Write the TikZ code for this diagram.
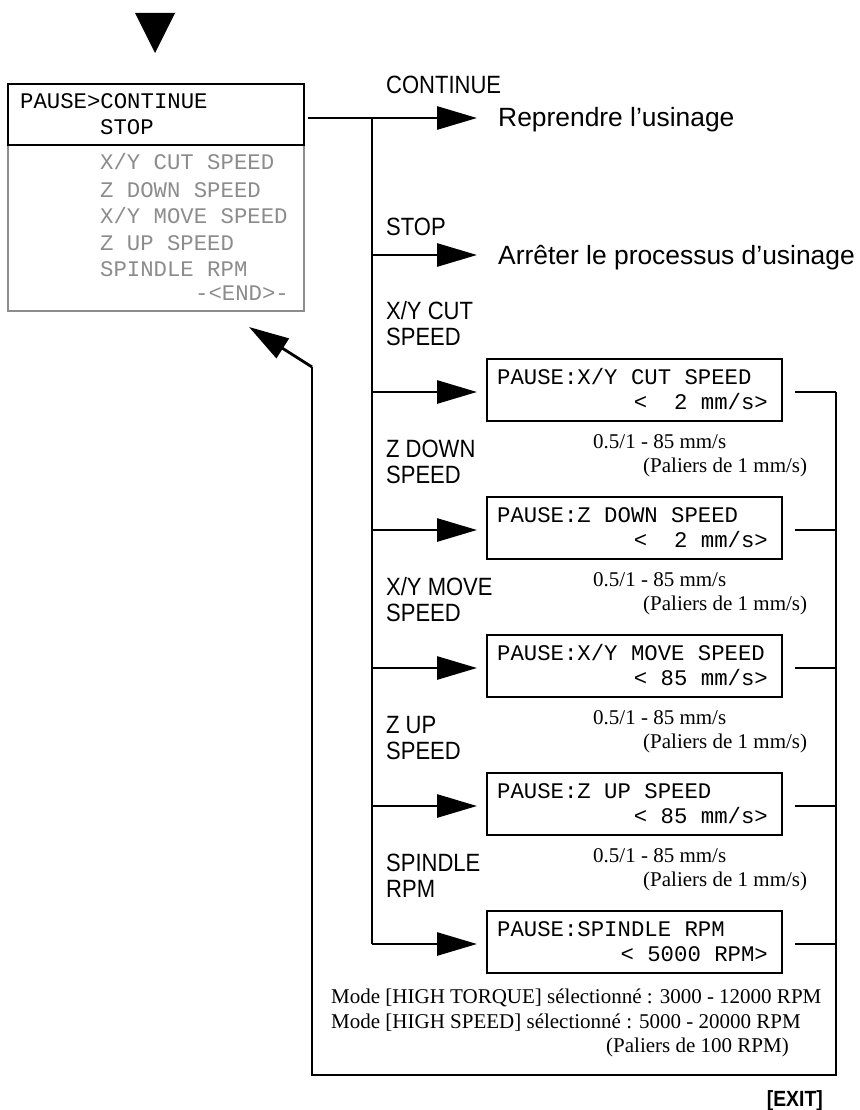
\documentclass[tikz,border=0pt]{standalone}
\usepackage{fontspec}
\setmainfont{Liberation Serif}
\newfontfamily\labfont{Liberation Sans}[FakeStretch=0.88]
\newfontfamily\txtfont{Liberation Sans}
\newfontfamily\monofont{Liberation Mono}
\usetikzlibrary{arrows.meta}
\definecolor{lcdgray}{HTML}{8C8C8C}
\tikzset{
  x=1pt, y=-1pt,
  conn/.style={line width=2.8pt, line cap=butt, line join=miter},
  arr/.style={conn, -{Triangle[length=40pt,width=23pt]}},
  lcdbox/.style={draw, line width=1.8pt, minimum width=295pt, minimum height=62pt, anchor=north west, inner sep=0pt},
  lcd/.style={font=\monofont\fontsize{22.3}{26}\selectfont, inner sep=0pt},
  lcdg/.style={lcd, text=lcdgray},
  lab/.style={font=\labfont\fontsize{25}{26}\selectfont, inner sep=0pt, anchor=base west, align=left},
  res/.style={font=\txtfont\fontsize{26.4}{28}\selectfont, inner sep=0pt, anchor=base west},
  rng/.style={font=\fontsize{21}{24}\selectfont, inner sep=0pt},
}
\begin{document}
\begin{tikzpicture}
\useasboundingbox (0,0) rectangle (859,1110);
% top marker
\fill (135,13) -- (175,13) -- (155,53) -- cycle;
% main menu box
\node[draw=lcdgray, line width=1.5pt, minimum width=296pt, minimum height=227pt, anchor=north west, inner sep=0pt] (menu) at (7,83) {};
\node[draw=black, line width=1.6pt, minimum width=296pt, minimum height=61pt, anchor=north west, inner sep=0pt] (menutop) at (7,83) {};
\node[lcd, anchor=base west] (m1) at (20,109) {PAUSE>CONTINUE};
\node[lcd, anchor=base west] (m2) at (100,135) {STOP};
\node[lcdg, anchor=base west] (m3) at (100,170) {X/Y CUT SPEED};
\node[lcdg, anchor=base west] (m4) at (100,197) {Z DOWN SPEED};
\node[lcdg, anchor=base west] (m5) at (100,223) {X/Y MOVE SPEED};
\node[lcdg, anchor=base west] (m6) at (100,250) {Z UP SPEED};
\node[lcdg, anchor=base west] (m7) at (100,276) {SPINDLE RPM};
\node[lcdg, anchor=base east] (m8) at (289,300) {-<END>-};

% CONTINUE / STOP
\coordinate (start) at (308,118);
\coordinate (jc) at (372,118);
\coordinate (tipc) at (477,118);
\coordinate (js) at (372,255);
\coordinate (tips) at (477,255);
\node[lab] (lc) at (386,94) {CONTINUE};
\node[res] (rc) at (498,127) {Reprendre l’usinage};
\node[lab] (ls) at (386,235) {STOP};
\node[res] (rs) at (498,264) {Arrêter le processus d’usinage};
\draw[arr] (start) -- (tipc);
\draw[arr] (js) -- (tips);

% sub boxes
\foreach \i/\t/\la/\lb/\va/\show in {
  1/358/X\slash Y CUT/SPEED/PAUSE:X\slash Y CUT SPEED/{<~~2 mm\slash s>},
  2/496/Z DOWN/SPEED/PAUSE:Z DOWN SPEED/{<~~2 mm\slash s>},
  3/634/X\slash Y MOVE/SPEED/PAUSE:X\slash Y MOVE SPEED/{<~85 mm\slash s>},
  4/772/Z UP/SPEED/PAUSE:Z UP SPEED/{<~85 mm\slash s>},
  5/910/SPINDLE/RPM/PAUSE:SPINDLE RPM/{<~5000 RPM>}}{
  \node[lcdbox] (b\i) at (486,\t) {};
  \node[lcd, anchor=base west] (b\i a) at (497,\t+26) {\va};
  \node[lcd, anchor=base east] (b\i b) at (768,\t+51) {\show};
  \node[lab] (l\i) at (386,\t-13) {\la\\[0pt]\lb};
  \coordinate (j\i) at (372,\t+34);
  \coordinate (t\i) at (477,\t+34);
  \coordinate (r\i) at (795,\t+34);
  \coordinate (q\i) at (836,\t+34);
  \draw[arr] (j\i) -- (t\i);
  \draw[conn] (r\i) -- (q\i);
}
\foreach \i/\t in {1/358,2/496,3/634,4/772}{
  \node[rng, anchor=base west] (p\i a) at (593,\t+90) {0.5/1 - 85 mm/s};
  \node[rng, anchor=base west] (p\i b) at (643,\t+114) {(Paliers de 1 mm/s)};
}
% trunk
\draw[conn] (jc) -- (j5);
% right collector and return
\coordinate (br) at (836,1075);
\coordinate (bl) at (312,1075);
\coordinate (bend) at (312,367);
\coordinate (tipr) at (249,327);
\draw[conn] (q1) -- (br) -- (bl) -- (bend);
\draw[arr] (bend) -- (tipr);

% bottom notes
\node[rng, anchor=base west] (n1) at (331,1003) {Mode [HIGH TORQUE] sélectionné : 3000 - 12000 RPM};
\node[rng, anchor=base west] (n2) at (331,1028) {Mode [HIGH SPEED] sélectionné : 5000 - 20000 RPM};
\node[rng, anchor=base west] (n3) at (606,1052) {(Paliers de 100 RPM)};
\node[font=\labfont\bfseries\fontsize{22}{24}\selectfont, inner sep=0pt, anchor=base east] (exit) at (823,1106) {[EXIT]};
\end{tikzpicture}
\end{document}
